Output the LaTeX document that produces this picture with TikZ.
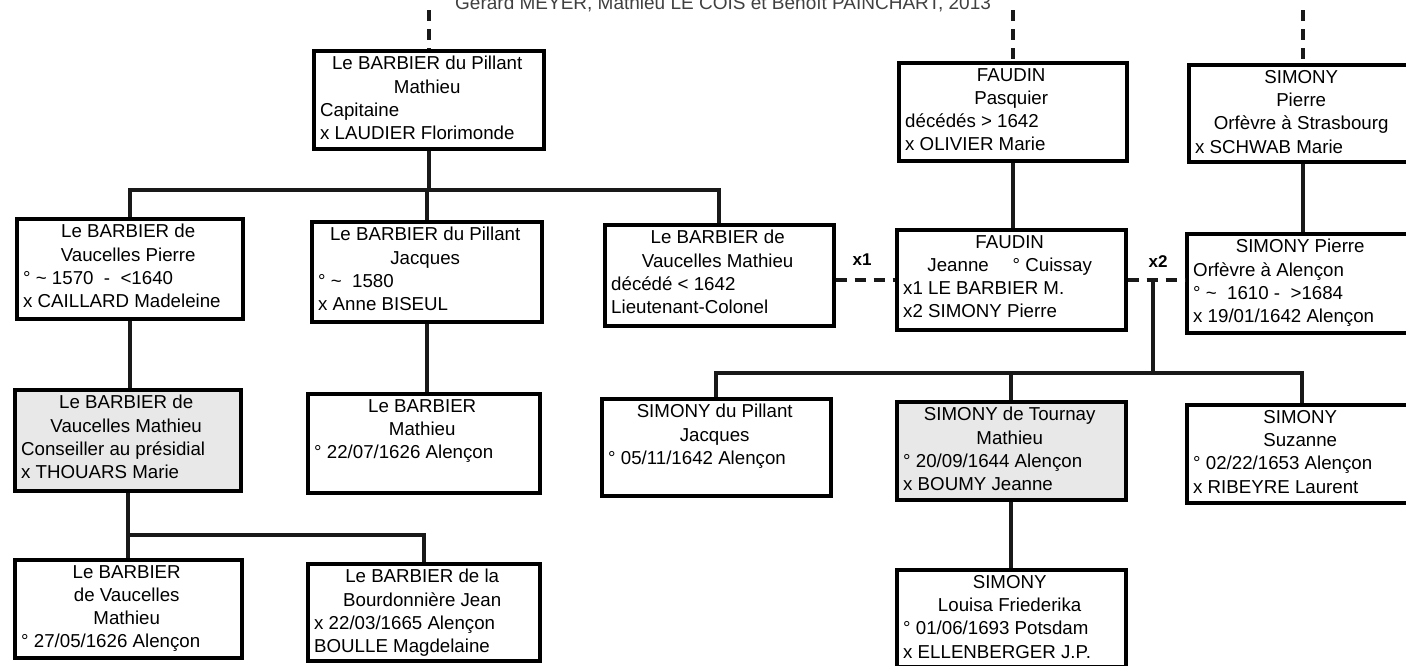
\documentclass[tikz,border=0pt]{standalone}
\usepackage{fontspec}
\setmainfont{Liberation Sans}
\newcommand\Ctr[1]{\centerline{#1}}
\newcommand\Lft[1]{\leftline{#1}}
\tikzset{
  box/.style={draw=black, line width=3.6pt, fill=white, inner sep=0pt},
  shaded/.style={fill=black!9},
  txt/.style={inner sep=0pt, font=\fontsize{18.7}{23.3}\selectfont},
  conn/.style={line width=3.8pt, draw=black!90},
  dsh/.style={line width=4.2pt, draw=black!90, dash pattern=on 11pt off 8pt},
  lab/.style={font=\fontsize{17}{20}\selectfont\bfseries, inner sep=0pt}
}
\newcommand\pbox[7]{%
  \pgfmathsetmacro\bw{#4-#2}\pgfmathsetmacro\bh{#5-#3}\pgfmathsetmacro\tw{#4-#2-16}%
  \node[box,#6,minimum width=\bw pt,minimum height=\bh pt,anchor=north west] (#1) at (#2,#3) {};
  \node[txt,anchor=north west] (#1t) at ([xshift=8pt,yshift=-7pt]#1.north west) {\parbox[t]{\tw pt}{#7}};}
\begin{document}
\begin{tikzpicture}[x=1pt,y=-1pt]
\useasboundingbox (0,0) rectangle (1406,665);
\clip (0,0) rectangle (1406,665);
\fill[white] (0,0) rectangle (1406,665);
% heading (cut off at top)
\node[anchor=base west, inner sep=0pt, font=\fontsize{19}{22}\selectfont, text=black!75] (head) at (455,9) {Gérard MEYER, Mathieu LE COIS et Benoît PAINCHART, 2013};
% row 1
\pbox{A}{312}{49}{542}{147}{}{\Ctr{Le BARBIER du Pillant}\Ctr{Mathieu}\Lft{Capitaine}\Lft{x LAUDIER Florimonde}}
\pbox{B}{897}{61}{1125}{159}{}{\Ctr{FAUDIN}\Ctr{Pasquier}\Lft{décédés > 1642}\Lft{x OLIVIER Marie}}
\pbox{C}{1187}{63}{1415}{160}{}{\Ctr{SIMONY}\Ctr{Pierre}\Ctr{Orfèvre à Strasbourg}\Lft{x SCHWAB Marie}}
% row 2
\pbox{D}{15}{217}{241}{317}{}{\Ctr{Le BARBIER de}\Ctr{Vaucelles Pierre}\Lft{° \textasciitilde\ 1570 \ - \ <1640}\Lft{x CAILLARD Madeleine}}
\pbox{E}{310}{220}{540}{320}{}{\Ctr{Le BARBIER du Pillant}\Ctr{Jacques}\Lft{° \textasciitilde\ \ 1580}\Lft{x Anne BISEUL}}
\pbox{F}{603}{223}{832}{324}{}{\Ctr{Le BARBIER de}\Ctr{Vaucelles Mathieu}\Lft{décédé < 1642}\Lft{Lieutenant-Colonel}}
\pbox{J}{895}{228}{1124}{328}{}{\Ctr{FAUDIN}\Ctr{Jeanne \quad ° Cuissay}\Lft{x1 LE BARBIER M.}\Lft{x2 SIMONY Pierre}}
\pbox{K}{1185}{232}{1415}{331}{}{\Ctr{SIMONY Pierre}\Lft{Orfèvre à Alençon}\Lft{° \textasciitilde\ \ 1610 - \ >1684}\Lft{x 19/01/1642 Alençon}}
% row 3
\pbox{G}{13}{388}{239}{489}{shaded}{\Ctr{Le BARBIER de}\Ctr{Vaucelles Mathieu}\Lft{Conseiller au présidial}\Lft{x THOUARS Marie}}
\pbox{H}{306}{392}{538}{491}{}{\Ctr{Le BARBIER}\Ctr{Mathieu}\Lft{° 22/07/1626 Alençon}}
\pbox{L}{600}{397}{829}{494}{}{\Ctr{SIMONY du Pillant}\Ctr{Jacques}\Lft{° 05/11/1642 Alençon}}
\pbox{M}{895}{400}{1124}{498}{shaded}{\Ctr{SIMONY de Tournay}\Ctr{Mathieu}\Lft{° 20/09/1644 Alençon}\Lft{x BOUMY Jeanne}}
\pbox{N}{1185}{403}{1415}{501}{}{\Ctr{SIMONY}\Ctr{Suzanne}\Lft{° 02/22/1653 Alençon}\Lft{x RIBEYRE Laurent}}
% row 4
\pbox{P}{13}{558}{240}{656}{}{\Ctr{Le BARBIER}\Ctr{de Vaucelles}\Ctr{Mathieu}\Lft{° 27/05/1626 Alençon}}
\pbox{Q}{306}{562}{538}{659}{}{\Ctr{Le BARBIER de la}\Ctr{Bourdonnière Jean}\Lft{x 22/03/1665 Alençon}\Lft{BOULLE Magdelaine}}
\pbox{O}{895}{568}{1124}{665}{}{\Ctr{SIMONY}\Ctr{Louisa Friederika}\Lft{° 01/06/1693 Potsdam}\Lft{x ELLENBERGER J.P.}}
% coordinates
\coordinate (top) at (0,10);
\coordinate (barA) at (427,190);
\coordinate (x1p) at (860,280);
\coordinate (x2p) at (1153,280);
\coordinate (barL) at (1153,373);
\coordinate (barG) at (126,535);
% dashed ascendants
\draw[dsh] (A.north |- top) -- (A.north);
\draw[dsh] (B.north |- top) -- (B.north);
\draw[dsh] (C.north |- top) -- (C.north);
% A's children
\draw[conn] (A.south) -- (A.south |- barA);
\draw[conn] (D.north) |- (barA) -| (F.north);
\draw[conn] (E.north) -- (E.north |- barA);
\draw[conn] (D.south) -- (D.south |- G.north);
\draw[conn] (E.south) -- (E.south |- H.north);
% G's children
\draw[conn] (G.south) -- (G.south |- barG);
\draw[conn] (P.north) |- (barG) -| (Q.north);
% right side
\draw[conn] (B.south) -- (B.south |- J.north);
\draw[conn] (C.south) -- (C.south |- K.north);
\draw[dsh] (F.east |- x1p) -- (J.west |- x1p);
\draw[dsh] (J.east |- x2p) -- (K.west |- x2p);
\node[lab] (lx1) at (862,260) {x1};
\node[lab] (lx2) at (1158,262) {x2};
\draw[conn] (x2p) -- (barL);
\draw[conn] (L.north) |- (barL) -| (N.north);
\draw[conn] (M.north) -- (M.north |- barL);
\draw[conn] (M.south) -- (M.south |- O.north);
\end{tikzpicture}
\end{document}
